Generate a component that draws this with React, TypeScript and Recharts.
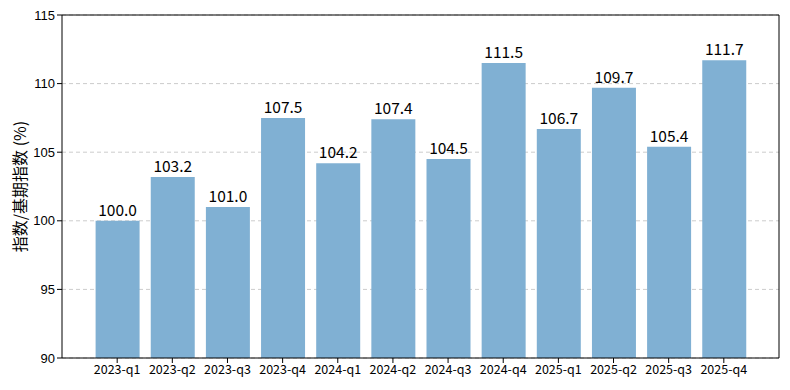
import { BarChart, Bar, XAxis, YAxis, CartesianGrid, LabelList } from 'recharts'

const quarters = [
  '2023-q1', '2023-q2', '2023-q3', '2023-q4',
  '2024-q1', '2024-q2', '2024-q3', '2024-q4',
  '2025-q1', '2025-q2', '2025-q3', '2025-q4',
]
const indexValues = [100.0, 103.2, 101.0, 107.5, 104.2, 107.4, 104.5, 111.5, 106.7, 109.7, 105.4, 111.7]
const yTicks = [90, 95, 100, 105, 110, 115]

const data = quarters.map((q, i) => ({ q, v: indexValues[i] }))

const cjk = '"Noto Sans CJK SC", "DejaVu Sans", sans-serif'

// rotated y label, centred on the plot height
const YLabel = (props: any) => {
  const vb = props.viewBox || {}
  const cy = vb.y + vb.height / 2
  return (
    <text x={19} y={cy} transform={`rotate(-90, 19, ${cy})`} textAnchor="middle" dominantBaseline="central"
      style={{ fontSize: 16, fontFamily: cjk, fill: '#000' }}>
      指数/基期指数 (%)
    </text>
  )
}

export default function App() {
  return (
    <div style={{ position: 'absolute', left: 0, top: 0, width: 790, height: 390, background: '#fff' }}>
      <BarChart width={790} height={390} data={data} margin={{ top: 14, right: 10, bottom: 0, left: 0 }}>
        <CartesianGrid vertical={false} stroke="#cccccc" strokeDasharray="4 3" />
        <XAxis
          dataKey="q"
          padding={{ left: 27.6, right: 27.6 }}
          tickSize={5}
          height={32}
          stroke="#000"
          tick={{ fill: '#000', fontSize: 12.5, fontFamily: cjk }}
          interval={0}
        />
        <XAxis xAxisId="top" dataKey="q" orientation="top" height={1} tick={false} tickLine={false} stroke="#000" />
        <YAxis
          domain={[90, 115]}
          ticks={yTicks}
          allowDataOverflow
          width={62}
          tickSize={5}
          stroke="#000"
          tick={{ fill: '#000', fontSize: 13, fontFamily: '"Liberation Sans", Arial, sans-serif' }}
          label={<YLabel />}
        />
        <YAxis yAxisId="right" orientation="right" width={1} tick={false} tickLine={false} stroke="#000" domain={[90, 115]} />
        <Bar dataKey="v" fill="#80b0d3" barSize={44} isAnimationActive={false}>
          <LabelList
            dataKey="v"
            position="top"
            offset={5}
            formatter={(v: number) => v.toFixed(1)}
            style={{ fontSize: 15.5, fontFamily: cjk, fill: '#000' }}
          />
        </Bar>
      </BarChart>
    </div>
  )
}
